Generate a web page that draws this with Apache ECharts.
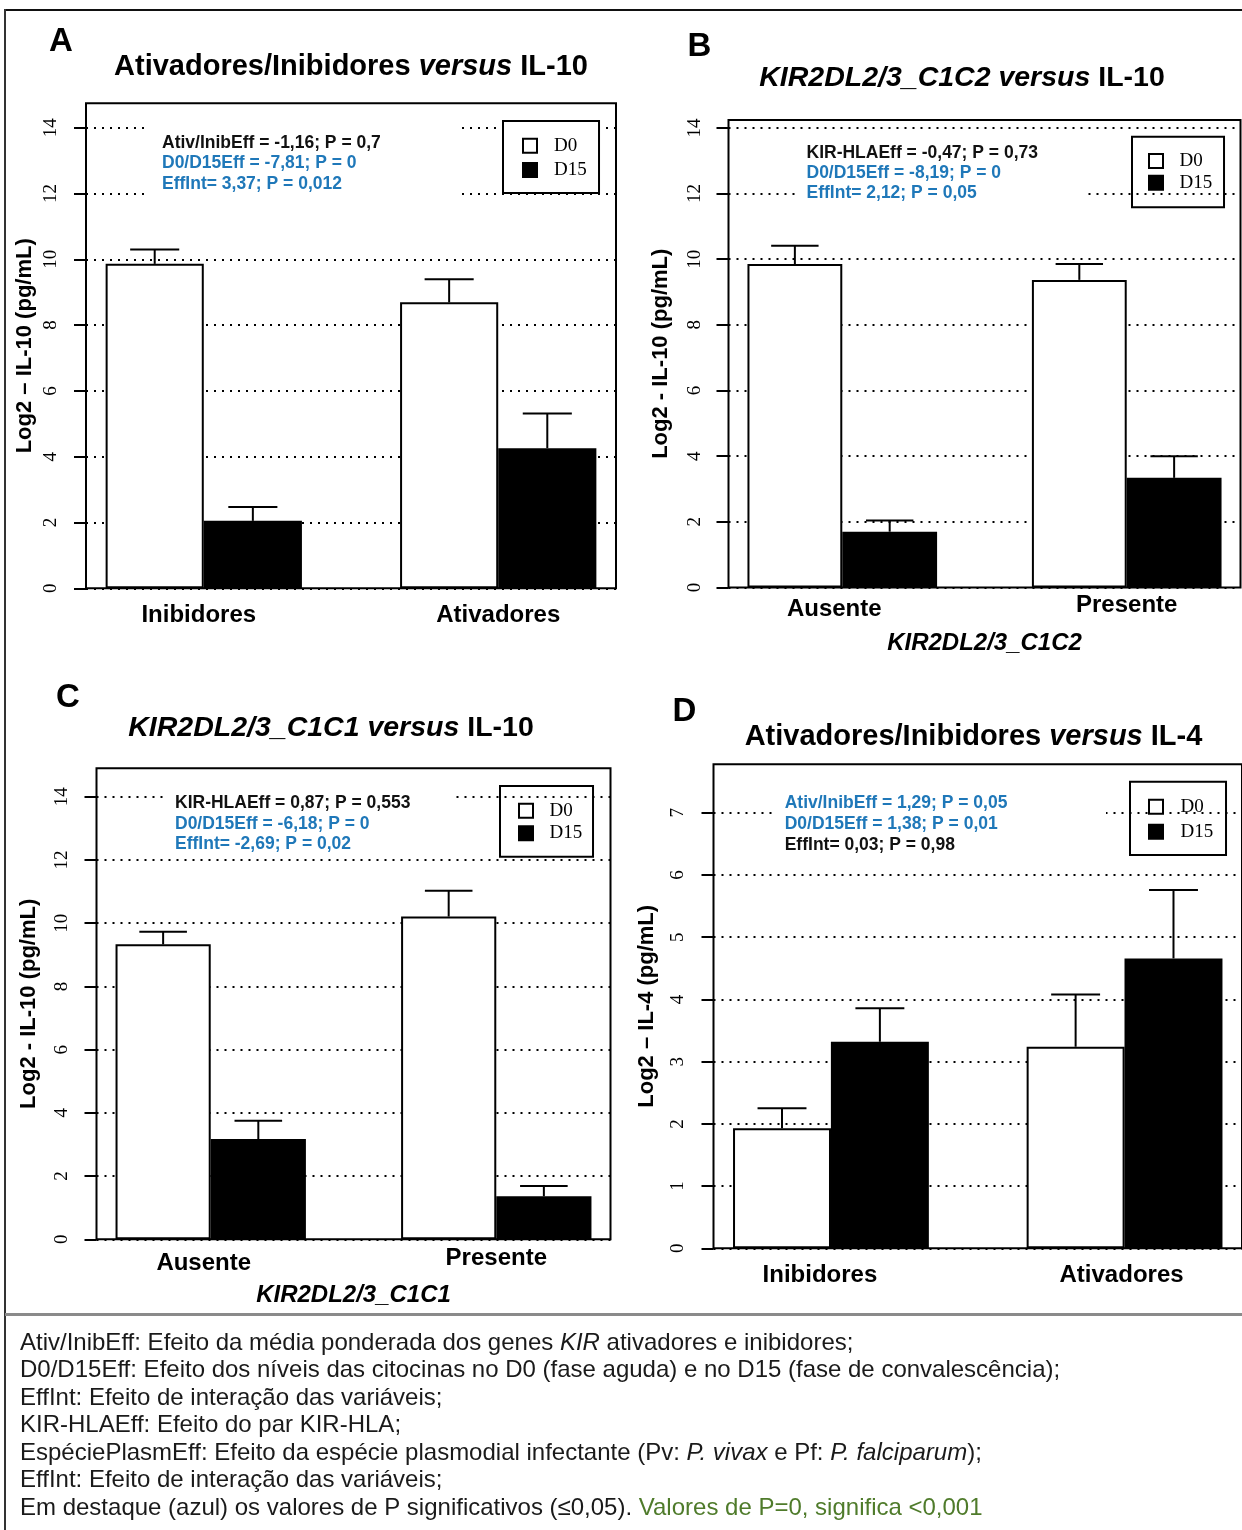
<!DOCTYPE html>
<html>
<head>
<meta charset="utf-8">
<script src="https://cdn.jsdelivr.net/npm/echarts@6/dist/echarts.min.js"></script>
<style>
  html, body { margin: 0; padding: 0; background: #fff; }
  #chart { width: 1242px; height: 1530px; }
</style>
</head>
<body>
<div id="chart"></div>
<script>
// ---------- data (log2 means and standard errors) ----------
const seriesNames = ['D0', 'D15'];
const ticksIL10 = [0, 2, 4, 6, 8, 10, 12, 14];
const ticksIL4 = [0, 1, 2, 3, 4, 5, 6, 7];

// A: Ativadores/Inibidores versus IL-10
const catsA = ['Inibidores', 'Ativadores'];
const d0A = [9.86, 8.69];
const d0SeA = [0.44, 0.70];
const d15A = [2.05, 4.26];
const d15SeA = [0.42, 1.05];
const effNamesA = ['Ativ/InibEff', 'D0/D15Eff', 'EffInt'];
const effA = [-1.16, -7.81, 3.37];
const pA = [0.7, 0, 0.012];

// B: KIR2DL2/3_C1C2 versus IL-10
const catsB = ['Ausente', 'Presente'];
const d0B = [9.85, 9.37];
const d0SeB = [0.56, 0.48];
const d15B = [1.70, 3.34];
const d15SeB = [0.34, 0.66];
const effNamesB = ['KIR-HLAEff', 'D0/D15Eff', 'EffInt'];
const effB = [-0.47, -8.19, 2.12];
const pB = [0.73, 0, 0.05];

// C: KIR2DL2/3_C1C1 versus IL-10
const catsC = ['Ausente', 'Presente'];
const d0C = [9.33, 10.21];
const d0SeC = [0.40, 0.82];
const d15C = [3.17, 1.36];
const d15SeC = [0.58, 0.33];
const effNamesC = ['KIR-HLAEff', 'D0/D15Eff', 'EffInt'];
const effC = [0.87, -6.18, -2.69];
const pC = [0.553, 0, 0.02];

// D: Ativadores/Inibidores versus IL-4
const catsD = ['Inibidores', 'Ativadores'];
const d0D = [1.93, 3.24];
const d0SeD = [0.32, 0.84];
const d15D = [3.32, 4.66];
const d15SeD = [0.54, 1.10];
const effNamesD = ['Ativ/InibEff', 'D0/D15Eff', 'EffInt'];
const effD = [1.29, 1.38, 0.03];
const pD = [0.05, 0.01, 0.98];

// ---------- styling ----------
const SANS = "'Liberation Sans', Arial, sans-serif";
const SERIF = "'Liberation Serif', 'Times New Roman', serif";
const BLUE = '#1f78b9';
const GREEN = '#4f7b2b';
const ALPHA = 0.05;

// barplot geometry in bar-width units: groups of two bars, one empty unit between groups
const X_MIN = 0.8, X_MAX = 6.2;
const groupCenter = j => j * 3 + 2;
const barX = (j, s) => j * 3 + 1.5 + s;

const panels = [
  {
    letter: 'A', cats: catsA, d0: d0A, d0Se: d0SeA, d15: d15A, d15Se: d15SeA,
    effNames: effNamesA, eff: effA, p: pA, ticks: ticksIL10,
    grid: { left: 86, top: 103.3, width: 530, height: 485 }, yMax: 14.74,
    yName: 'Log2 \u2013 IL-10 (pg/mL)', yNameGap: 50, yLabelMargin: 25,
    xLabelMargin: 15, xLabelDy: [0, 0], xLabelDx: [-5, 0], xName: null, xNameGap: 0,
    letterPos: [61, 42],
    title: '{b|Ativadores/Inibidores }{bi|versus}{b| IL-10}', titleSize: 29, titlePos: [351, 67],
    annotX: 162, annotY: [142.7, 163.3, 184],
    mask: [148, 114, 308, 88],
    legend: { left: 503, top: 121, padding: [15.2, 12.3, 13.5, 19], gap: 5.3, textPad: 12, bg: '#fff' }
  },
  {
    letter: 'B', cats: catsB, d0: d0B, d0Se: d0SeB, d15: d15B, d15Se: d15SeB,
    effNames: effNamesB, eff: effB, p: pB, ticks: ticksIL10,
    grid: { left: 728.5, top: 120, width: 512, height: 467.5 }, yMax: 14.24,
    yName: 'Log2 - IL-10 (pg/mL)', yNameGap: 57, yLabelMargin: 23.5,
    xLabelMargin: 6, xLabelDy: [4, 0], xLabelDx: [-8, 0], xName: 'KIR2DL2/3_C1C2', xNameGap: 43.5,
    letterPos: [699.5, 46.7],
    title: '{bi|KIR2DL2/3_C1C2 versus}{b| IL-10}', titleSize: 28.5, titlePos: [962, 78],
    annotX: 806.5, annotY: [153.3, 173.3, 193.3],
    mask: [797, 140, 290, 62],
    legend: { left: 1132, top: 136.7, padding: [14.8, 11.8, 15.1, 16], gap: 2.7, textPad: 11.5, bg: 'transparent' }
  },
  {
    letter: 'C', cats: catsC, d0: d0C, d0Se: d0SeC, d15: d15C, d15Se: d15SeC,
    effNames: effNamesC, eff: effC, p: pC, ticks: ticksIL10,
    grid: { left: 96.5, top: 768.3, width: 514, height: 471 }, yMax: 14.9,
    yName: 'Log2 - IL-10 (pg/mL)', yNameGap: 57, yLabelMargin: 24.5,
    xLabelMargin: 7, xLabelDy: [5, 0], xLabelDx: [-7, 0], xName: 'KIR2DL2/3_C1C1', xNameGap: 44,
    letterPos: [68, 698.3],
    title: '{bi|KIR2DL2/3_C1C1 versus}{b| IL-10}', titleSize: 28.5, titlePos: [331, 728.3],
    annotX: 175, annotY: [803.3, 824, 844.3],
    mask: [164, 788, 292, 66],
    legend: { left: 500, top: 786, padding: [15.2, 10.7, 13.9, 18], gap: 3.6, textPad: 11.6, bg: 'transparent' }
  },
  {
    letter: 'D', cats: catsD, d0: d0D, d0Se: d0SeD, d15: d15D, d15Se: d15SeD,
    effNames: effNamesD, eff: effD, p: pD, ticks: ticksIL4,
    grid: { left: 713.5, top: 764.3, width: 529, height: 484 }, yMax: 7.78,
    yName: 'Log2 \u2013 IL-4 (pg/mL)', yNameGap: 56, yLabelMargin: 26,
    xLabelMargin: 15, xLabelDy: [0, 0], xLabelDx: [-11, -3], xName: null, xNameGap: 0,
    letterPos: [684.5, 711.7],
    title: '{b|Ativadores/Inibidores }{bi|versus}{b| IL-4}', titleSize: 29, titlePos: [973.5, 736.7],
    annotX: 784.7, annotY: [803.3, 824, 845],
    mask: [775, 790, 331, 66],
    legend: { left: 1130, top: 781.7, padding: [15.5, 12.8, 13.8, 18], gap: 6, textPad: 12.5, bg: 'transparent' }
  }
];

// ---------- helpers ----------
const fmtNum = v => String(v).replace('.', ',');
const fmtEff = v => v.toFixed(2).replace('.', ',');
function effLine(name, est, p) {
  const eq = name === 'EffInt' ? '= ' : ' = ';
  return name + eq + fmtEff(est) + '; P = ' + fmtNum(p);
}

function renderErrorBar(params, api) {
  const x = api.value(0), m = api.value(1), se = api.value(2);
  const base = api.coord([x, m]);
  const tip = api.coord([x, m + se]);
  const half = api.size([0.25, 0])[0];
  const st = { stroke: '#000', lineWidth: 2 };
  return {
    type: 'group',
    children: [
      { type: 'line', shape: { x1: base[0], y1: base[1], x2: tip[0], y2: tip[1] }, style: st },
      { type: 'line', shape: { x1: tip[0] - half, y1: tip[1], x2: tip[0] + half, y2: tip[1] }, style: st }
    ]
  };
}

// label nudge: vertical offset via top padding, horizontal offset via side padding
function labelPad(dy, dx) {
  return [Math.max(dy, 0), dx < 0 ? -2 * dx : 0, 0, dx > 0 ? 2 * dx : 0];
}

// ---------- build option ----------
const grids = [], xAxes = [], yAxes = [], series = [], legends = [], graphics = [];

panels.forEach((pn, i) => {
  grids.push(Object.assign({ show: true, borderColor: '#000', borderWidth: 2, backgroundColor: 'transparent' }, pn.grid));

  const unitPx = pn.grid.width / (X_MAX - X_MIN);
  const catStyle = k => ({
    fontFamily: SANS, fontWeight: 'bold', fontSize: 24, color: '#000',
    padding: labelPad(pn.xLabelDy[k], pn.xLabelDx[k])
  });

  xAxes.push({
    type: 'value', gridIndex: i, min: X_MIN, max: X_MAX,
    axisLine: { show: false }, axisTick: { show: false }, splitLine: { show: false },
    axisLabel: {
      customValues: pn.cats.map((c, j) => groupCenter(j)),
      margin: pn.xLabelMargin,
      formatter: v => {
        const j = Math.round((v - 2) / 3);
        return '{g' + j + '|' + pn.cats[j] + '}';
      },
      rich: { g0: catStyle(0), g1: catStyle(1) }
    },
    name: pn.xName || '', nameLocation: 'middle', nameGap: pn.xNameGap,
    nameTextStyle: { fontFamily: SANS, fontWeight: 'bold', fontStyle: 'italic', fontSize: 24, color: '#000' }
  });

  yAxes.push({
    type: 'value', gridIndex: i, min: 0, max: pn.yMax, interval: pn.ticks[1] - pn.ticks[0],
    axisLine: { show: false },
    axisTick: { show: true, inside: false, length: 12, customValues: pn.ticks, lineStyle: { color: '#000', width: 2 } },
    axisLabel: { customValues: pn.ticks, rotate: 90, margin: pn.yLabelMargin, fontFamily: SERIF, fontSize: 19, color: '#000' },
    splitLine: { show: true, lineStyle: { color: '#000', width: 2, type: [2, 6] } },
    name: pn.yName, nameLocation: 'middle', nameRotate: 90, nameGap: pn.yNameGap,
    nameTextStyle: { fontFamily: SANS, fontWeight: 'bold', fontSize: 22, color: '#000' }
  });

  const common = {
    type: 'bar', xAxisIndex: i, yAxisIndex: i, barWidth: unitPx, barGap: '-100%',
    silent: true, animation: false, z: 2
  };
  series.push(Object.assign({}, common, {
    name: seriesNames[0],
    data: pn.d0.map((v, j) => [barX(j, 0), v]),
    itemStyle: { color: '#fff', borderColor: '#000', borderWidth: 2 }
  }));
  series.push(Object.assign({}, common, {
    name: seriesNames[1],
    data: pn.d15.map((v, j) => [barX(j, 1), v]),
    itemStyle: { color: '#000', borderColor: '#000', borderWidth: 2 }
  }));
  series.push({
    type: 'custom', name: 'se', xAxisIndex: i, yAxisIndex: i, silent: true, animation: false, z: 5,
    renderItem: renderErrorBar,
    encode: { x: 0, y: 1 },
    data: pn.d0.map((v, j) => [barX(j, 0), v, pn.d0Se[j]])
      .concat(pn.d15.map((v, j) => [barX(j, 1), v, pn.d15Se[j]]))
  });

  legends.push({
    orient: 'vertical', left: pn.legend.left, top: pn.legend.top,
    data: seriesNames, icon: 'rect', itemWidth: 14, itemHeight: 14, itemGap: pn.legend.gap,
    padding: pn.legend.padding, borderColor: '#000', borderWidth: 2, borderRadius: 0,
    backgroundColor: pn.legend.bg, selectedMode: false,
    textStyle: { fontFamily: SERIF, fontSize: 19, color: '#000', lineHeight: 19, padding: [0, 0, 0, pn.legend.textPad] }
  });

  // white band behind the statistics text (hides the dotted grid there)
  graphics.push({
    type: 'rect', z: 50, silent: true,
    shape: { x: pn.mask[0], y: pn.mask[1], width: pn.mask[2], height: pn.mask[3] },
    style: { fill: '#fff' }
  });
  pn.effNames.forEach((nm, k) => {
    graphics.push({
      type: 'text', z: 51, silent: true, x: pn.annotX, y: pn.annotY[k],
      style: {
        text: effLine(nm, pn.eff[k], pn.p[k]),
        fontFamily: SANS, fontWeight: 'bold', fontSize: 17.5,
        fill: pn.p[k] <= ALPHA ? BLUE : '#111',
        align: 'left', verticalAlign: 'middle'
      }
    });
  });

  graphics.push({
    type: 'text', z: 51, silent: true, x: pn.letterPos[0], y: pn.letterPos[1],
    style: { text: pn.letter, fontFamily: SANS, fontWeight: 'bold', fontSize: 33, fill: '#000', align: 'center', verticalAlign: 'middle' }
  });
  graphics.push({
    type: 'text', z: 51, silent: true, x: pn.titlePos[0], y: pn.titlePos[1],
    style: {
      text: pn.title, align: 'center', verticalAlign: 'middle',
      rich: {
        b: { fontFamily: SANS, fontWeight: 'bold', fontSize: pn.titleSize, fill: '#000' },
        bi: { fontFamily: SANS, fontWeight: 'bold', fontStyle: 'italic', fontSize: pn.titleSize, fill: '#000' }
      }
    }
  });
});

// ---------- frame and footnote ----------
graphics.push(
  { type: 'line', z: 60, silent: true, shape: { x1: 4, y1: 10, x2: 1242, y2: 10 }, style: { stroke: '#111', lineWidth: 2 } },
  { type: 'line', z: 60, silent: true, shape: { x1: 5, y1: 9, x2: 5, y2: 1530 }, style: { stroke: '#333', lineWidth: 2 } },
  { type: 'line', z: 60, silent: true, shape: { x1: 5, y1: 1314.5, x2: 1242, y2: 1314.5 }, style: { stroke: '#8a8a8a', lineWidth: 3 } }
);

const footLines = [
  '{n|Ativ/InibEff: Efeito da m\u00e9dia ponderada dos genes }{i|KIR}{n| ativadores e inibidores;}',
  '{n|D0/D15Eff: Efeito dos n\u00edveis das citocinas no D0 (fase aguda) e no D15 (fase de convalesc\u00eancia);}',
  '{n|EffInt: Efeito de intera\u00e7\u00e3o das vari\u00e1veis;}',
  '{n|KIR-HLAEff: Efeito do par KIR-HLA;}',
  '{n|Esp\u00e9ciePlasmEff: Efeito da esp\u00e9cie plasmodial infectante (Pv: }{i|P. vivax}{n| e Pf: }{i|P. falciparum}{n|);}',
  '{n|EffInt: Efeito de intera\u00e7\u00e3o das vari\u00e1veis;}',
  '{n|Em destaque (azul) os valores de P significativos (\u22640,05). }{g|Valores de P=0, significa <0,001}'
];
const footRich = {
  n: { fontFamily: SANS, fontSize: 24, fill: '#1a1a1a' },
  i: { fontFamily: SANS, fontSize: 24, fontStyle: 'italic', fill: '#1a1a1a' },
  g: { fontFamily: SANS, fontSize: 24, fill: GREEN }
};
footLines.forEach((t, k) => {
  graphics.push({
    type: 'text', z: 51, silent: true, x: 20, y: 1343 + k * 27.5,
    style: { text: t, rich: footRich, align: 'left', verticalAlign: 'middle' }
  });
});

const chart = echarts.init(document.getElementById('chart'), null, { renderer: 'canvas' });
chart.setOption({
  animation: false,
  backgroundColor: '#fff',
  grid: grids,
  xAxis: xAxes,
  yAxis: yAxes,
  legend: legends,
  series: series,
  graphic: { elements: graphics }
});
</script>
</body>
</html>
